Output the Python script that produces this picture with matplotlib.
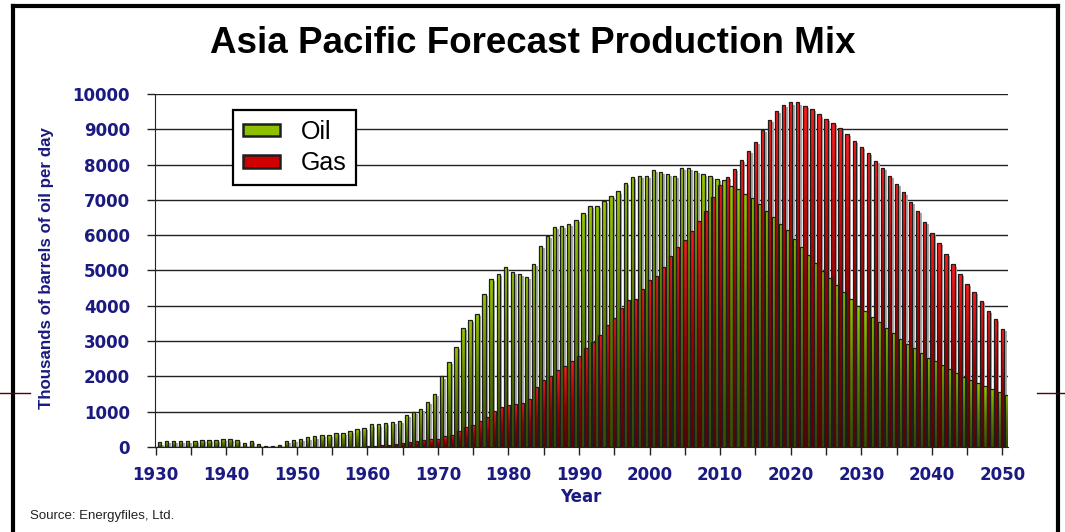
import matplotlib
matplotlib.use('Agg')
import matplotlib.pyplot as plt
import numpy as np
from matplotlib.colors import LinearSegmentedColormap
from matplotlib.lines import Line2D
from matplotlib.patches import Patch

years = np.arange(1930, 2051)

oil = [130, 160, 160, 160, 160, 160, 190, 190, 190, 230,
       230, 190, 100, 160, 80, 20, 20, 60, 160, 190,
       230, 270, 300, 330, 330, 400, 400, 460, 500, 530,
       640, 640, 690, 710, 740, 900, 1000, 1070, 1280, 1510,
       2000, 2400, 2830, 3380, 3590, 3770, 4340, 4750, 4890, 5110,
       4950, 4910, 4810, 5190, 5690, 5990, 6230, 6260, 6320, 6420,
       6620, 6820, 6820, 6960, 7120, 7240, 7480, 7660, 7690, 7690,
       7860, 7790, 7730, 7690, 7900, 7900, 7830, 7730, 7670, 7600,
       7560, 7400, 7320, 7180, 7050, 6870, 6690, 6520, 6330, 6140,
       5900, 5670, 5430, 5200, 4990, 4790, 4580, 4380, 4180, 4000,
       3850, 3670, 3530, 3370, 3230, 3070, 2930, 2810, 2660, 2530,
       2430, 2320, 2200, 2100, 1980, 1910, 1820, 1720, 1650, 1560,
       1480]

gas = [0, 0, 0, 0, 0, 0, 0, 0, 0, 0,
       0, 0, 0, 0, 0, 0, 0, 0, 0, 0,
       0, 0, 0, 0, 0, 0, 0, 0, 10, 20,
       30, 50, 70, 90, 110, 140, 160, 190, 220, 230,
       300, 330, 440, 570, 630, 730, 860, 1010, 1130, 1180,
       1210, 1250, 1370, 1700, 1890, 2000, 2170, 2300, 2430, 2590,
       2800, 2970, 3160, 3460, 3660, 3940, 4150, 4180, 4480, 4720,
       4850, 5090, 5400, 5660, 5870, 6130, 6400, 6690, 7090, 7410,
       7640, 7870, 8120, 8380, 8650, 8980, 9260, 9530, 9690, 9760,
       9760, 9660, 9570, 9420, 9290, 9190, 9050, 8880, 8680, 8510,
       8320, 8110, 7910, 7680, 7440, 7210, 6930, 6680, 6370, 6070,
       5770, 5460, 5170, 4900, 4630, 4390, 4130, 3860, 3620, 3350,
       np.nan]

navy = '#1a1a80'
edge = '#1e1e1e'
green_cmap = LinearSegmentedColormap.from_list('g', ['#384c00', '#5c7e00', '#95c800'])
red_cmap = LinearSegmentedColormap.from_list('r', ['#5a0000', '#9c0000', '#ff1a1a'])

fig = plt.figure(figsize=(10.65, 5.32), dpi=100)
ax = fig.add_axes([0.1455, 0.1598, 0.801, 0.6635])

w = 0.48
n_seg = 30
for vals, off, cmap in [(np.array(oil, float), 0.55, green_cmap), (np.array(gas, float), 1.0, red_cmap)]:
    x = years + off
    # grey shadow on the right side of each bar
    ax.bar(x + 0.35, np.maximum(vals - 60, 0), width=w, color='#aaaaaa', linewidth=0, zorder=1)
    # vertical gradient, dark at the bottom
    for k in range(n_seg):
        ax.bar(x, vals / n_seg, bottom=vals * k / n_seg, width=w,
               color=cmap((k + 0.5) / n_seg), linewidth=0, zorder=2 + off)
    ax.bar(x, vals, width=w, fill=False, edgecolor=edge, linewidth=0.9, zorder=2.5 + off)

ax.set_xlim(1929.9, 2050.8)
ax.set_ylim(0, 10000)
ax.set_yticks(np.arange(0, 10001, 1000))
ax.set_xticks(np.arange(1930, 2051, 10))
ax.set_xticks(np.arange(1935, 2050, 10), minor=True)
ax.grid(axis='y', color='#222222', linewidth=1.0, zorder=0)
ax.set_axisbelow(True)
for s in ['top', 'right']:
    ax.spines[s].set_visible(False)
ax.spines['left'].set_color('#222222')
ax.spines['bottom'].set_color('#222222')
ax.tick_params(axis='both', which='both', direction='out', length=6, width=1, color='#222222')
ax.tick_params(axis='y', pad=12)
ax.tick_params(axis='x', pad=8)
for lab in ax.get_xticklabels() + ax.get_yticklabels():
    lab.set_fontfamily('DejaVu Sans')
    lab.set_fontweight('bold')
    lab.set_fontsize(12)
    lab.set_color(navy)

handles = [Patch(facecolor='#8cc000', edgecolor=edge, linewidth=1.8, label='Oil'),
           Patch(facecolor='#d00000', edgecolor=edge, linewidth=1.8, label='Gas')]
leg = ax.legend(handles=handles, loc='upper left', bbox_to_anchor=(0.0914, 0.955),
                borderaxespad=0, fancybox=False, framealpha=1, edgecolor='black',
                prop={'family': 'Liberation Sans', 'size': 18},
                handlelength=1.5, handleheight=0.4, handletextpad=0.8,
                labelspacing=0.3, borderpad=0.4)
leg.get_frame().set_linewidth(1.6)
leg.set_zorder(10)

fig.text(0.5, 0.918, 'Asia Pacific Forecast Production Mix', ha='center', va='center',
         fontsize=26.5, fontweight='bold', family='Liberation Sans')
fig.text(47 / 1065, 0.496, 'Thousands of barrels of oil per day', rotation=90,
         ha='center', va='center', fontsize=12.2, fontweight='bold', color=navy,
         family=['Liberation Sans Narrow', 'Liberation Sans'])
fig.text(0.5455, 0.0658, 'Year', ha='center', va='center', fontsize=12,
         fontweight='bold', color=navy, family='DejaVu Sans')
fig.text(30 / 1065, 1 - 516 / 532, 'Source: Energyfiles, Ltd.', ha='left', va='center',
         fontsize=9.5, family='Liberation Sans', color='#222222')

# slide frame and the stray guide lines
fig.add_artist(Line2D([13 / 1065, 13 / 1065], [0, 1 - 6 / 532], color='black', linewidth=3))
fig.add_artist(Line2D([1058 / 1065, 1058 / 1065], [0, 1 - 6 / 532], color='black', linewidth=3))
fig.add_artist(Line2D([13 / 1065, 1058 / 1065], [1 - 6 / 532, 1 - 6 / 532], color='black', linewidth=3))
fig.add_artist(Line2D([0, 30 / 1065], [1 - 393 / 532] * 2, color='#5a0000', linewidth=1))
fig.add_artist(Line2D([1037 / 1065, 1], [1 - 393 / 532] * 2, color='#5a0000', linewidth=1))

fig.savefig('out.png', dpi=100)
